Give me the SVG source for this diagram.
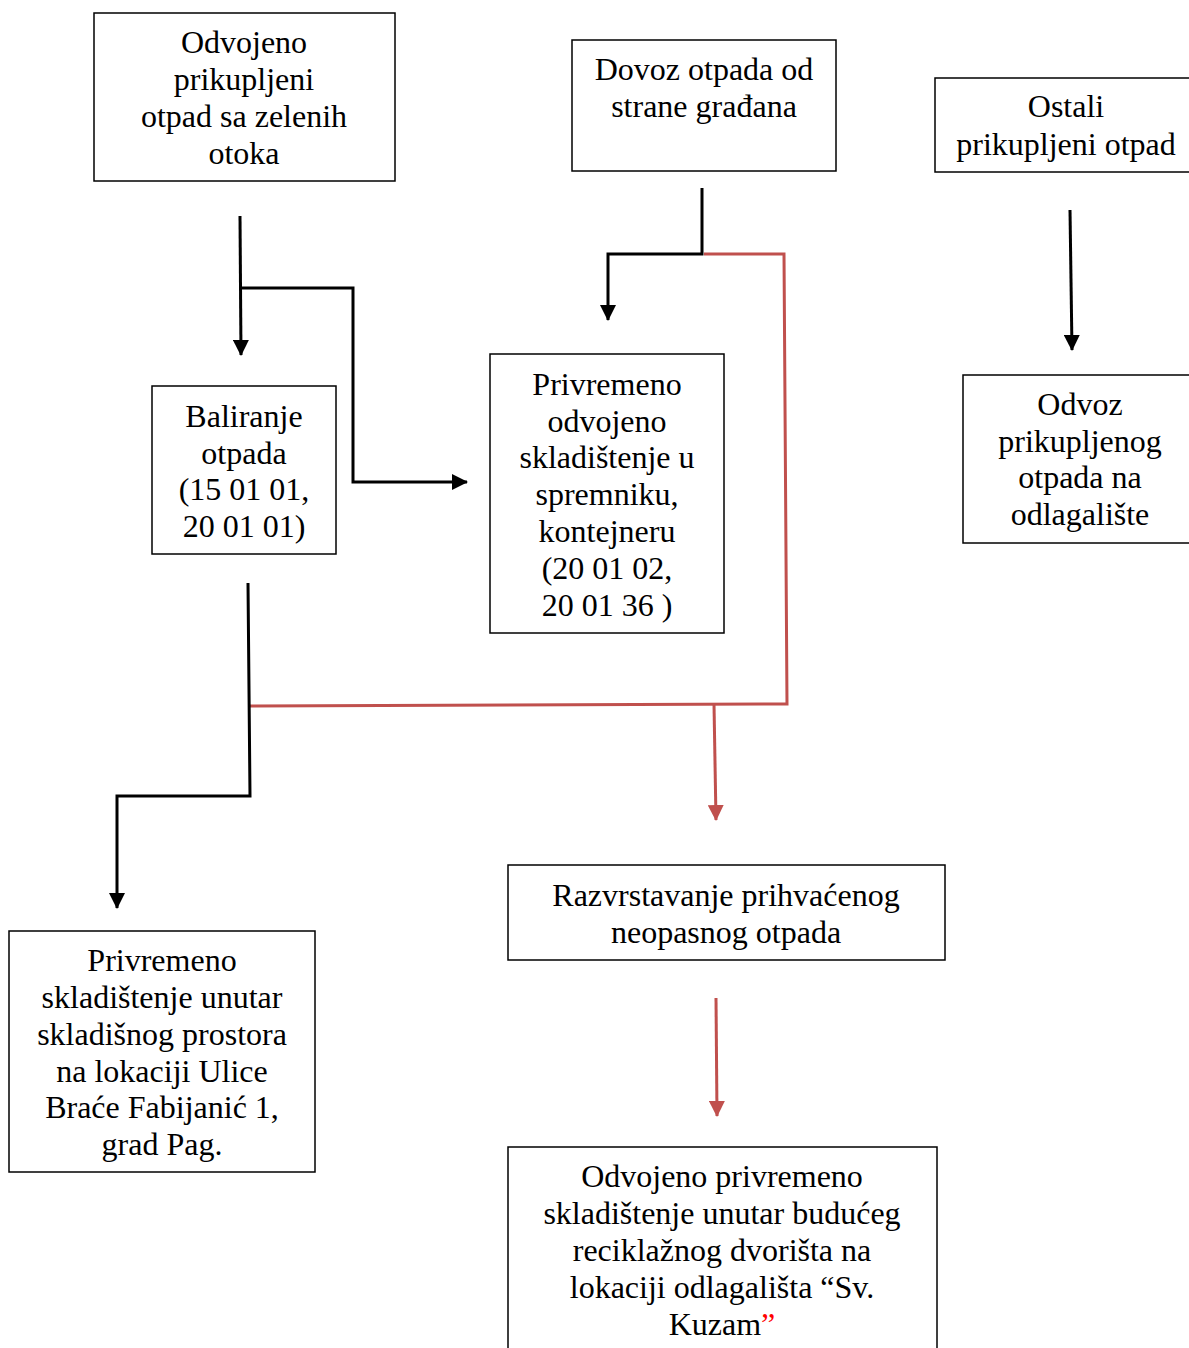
<svg xmlns="http://www.w3.org/2000/svg" width="1189" height="1348" viewBox="0 0 1189 1348">
<style>
.box{fill:#fff;stroke:#000;stroke-width:1.5}
.t{font-family:"Liberation Serif","Times New Roman",serif;font-size:32px;fill:#000;text-anchor:middle}
.k{fill:none;stroke:#000;stroke-width:3}
.r{fill:none;stroke:#C0504D;stroke-width:3}
</style>
<defs>
<marker id="ak" markerUnits="userSpaceOnUse" markerWidth="16" markerHeight="16" refX="15" refY="8" orient="auto" viewBox="0 0 16 16"><path d="M0,0 L16,8 L0,16 Z" fill="#000"/></marker>
<marker id="ar" markerUnits="userSpaceOnUse" markerWidth="16" markerHeight="16" refX="15" refY="8" orient="auto" viewBox="0 0 16 16"><path d="M0,0 L16,8 L0,16 Z" fill="#C0504D"/></marker>
</defs>
<rect width="1189" height="1348" fill="#fff"/>
<g id="connectors">
<path class="k" d="M240,216 L241,355" marker-end="url(#ak)"/>
<path class="k" d="M241,288 L353,288 L353,482 L467,482" marker-end="url(#ak)"/>
<path class="k" d="M702,188 L702,254 L608,254 L608,320" marker-end="url(#ak)"/>
<path class="r" d="M704,254 L784,254 L787,704 L250,706"/>
<path class="r" d="M714,704 L716,820" marker-end="url(#ar)"/>
<path class="k" d="M248,583 L250,796 L117,796 L117,908" marker-end="url(#ak)"/>
<path class="k" d="M1070,210 L1072,350" marker-end="url(#ak)"/>
<path class="r" d="M716,998 L717,1116" marker-end="url(#ar)"/>
</g>
<g id="n1"><rect class="box" x="94" y="13" width="301" height="168"/>
<text class="t"><tspan x="244" y="53">Odvojeno</tspan><tspan x="244" y="90">prikupljeni</tspan><tspan x="244" y="127">otpad sa zelenih</tspan><tspan x="244" y="164">otoka</tspan></text></g>
<g id="n2"><rect class="box" x="572" y="40" width="264" height="131"/>
<text class="t"><tspan x="704" y="80">Dovoz otpada od</tspan><tspan x="704" y="117">strane građana</tspan></text></g>
<g id="n3"><rect class="box" x="935" y="78" width="262" height="94"/>
<text class="t"><tspan x="1066" y="117">Ostali</tspan><tspan x="1066" y="155">prikupljeni otpad</tspan></text></g>
<g id="n4"><rect class="box" x="152" y="386" width="184" height="168"/>
<text class="t"><tspan x="244" y="427">Baliranje</tspan><tspan x="244" y="464">otpada</tspan><tspan x="244" y="500">(15 01 01,</tspan><tspan x="244" y="537">20 01 01)</tspan></text></g>
<g id="n5"><rect class="box" x="490" y="354" width="234" height="279"/>
<text class="t"><tspan x="607" y="395">Privremeno</tspan><tspan x="607" y="432">odvojeno</tspan><tspan x="607" y="468">skladištenje u</tspan><tspan x="607" y="505">spremniku,</tspan><tspan x="607" y="542">kontejneru</tspan><tspan x="607" y="579">(20 01 02,</tspan><tspan x="607" y="616">20 01 36 )</tspan></text></g>
<g id="n6"><rect class="box" x="963" y="375" width="234" height="168"/>
<text class="t"><tspan x="1080" y="415">Odvoz</tspan><tspan x="1080" y="452">prikupljenog</tspan><tspan x="1080" y="488">otpada na</tspan><tspan x="1080" y="525">odlagalište</tspan></text></g>
<g id="n7"><rect class="box" x="9" y="931" width="306" height="241"/>
<text class="t"><tspan x="162" y="971">Privremeno</tspan><tspan x="162" y="1008">skladištenje unutar</tspan><tspan x="162" y="1045">skladišnog prostora</tspan><tspan x="162" y="1082">na lokaciji Ulice</tspan><tspan x="162" y="1118">Braće Fabijanić 1,</tspan><tspan x="162" y="1155">grad Pag.</tspan></text></g>
<g id="n8"><rect class="box" x="508" y="865" width="437" height="95"/>
<text class="t"><tspan x="726" y="906">Razvrstavanje prihvaćenog</tspan><tspan x="726" y="943">neopasnog otpada</tspan></text></g>
<g id="n9"><rect class="box" x="508" y="1147" width="429" height="215"/>
<text class="t"><tspan x="722" y="1187">Odvojeno privremeno</tspan><tspan x="722" y="1224">skladištenje unutar budućeg</tspan><tspan x="722" y="1261">reciklažnog dvorišta na</tspan><tspan x="722" y="1298">lokaciji odlagališta “Sv.</tspan><tspan x="722" y="1335">Kuzam<tspan fill="#FF0000">”</tspan></tspan></text></g>
</svg>
